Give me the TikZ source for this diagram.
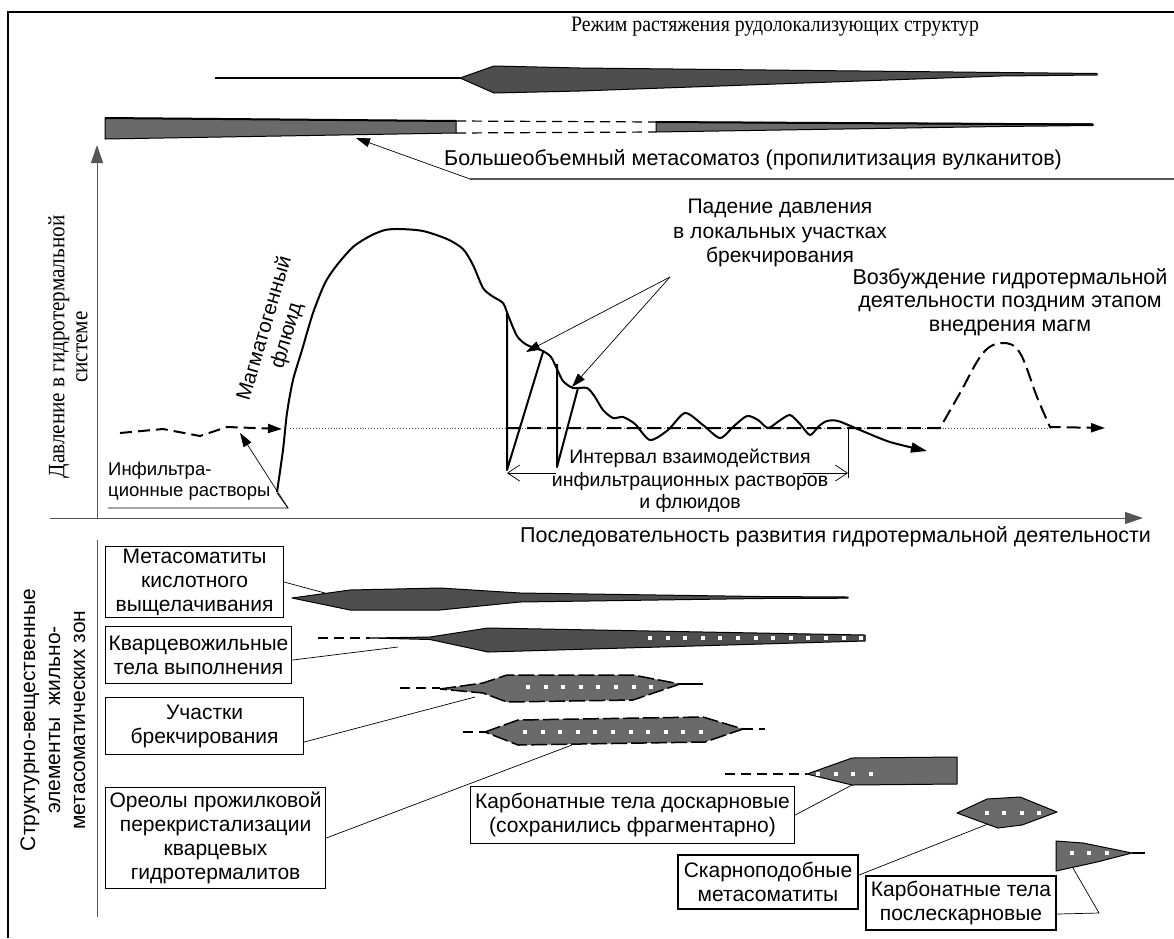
\documentclass[tikz,border=0pt]{standalone}
\usepackage{fontspec}
\setmainfont{Liberation Serif}
\setsansfont{Liberation Sans}
\newfontfamily\condserif[FakeStretch=0.9]{Liberation Serif}
\usetikzlibrary{arrows.meta}
\definecolor{dk}{HTML}{4E4E4E}
\definecolor{md}{HTML}{6A6A6A}
\definecolor{ax}{HTML}{555555}
\begin{document}
\begin{tikzpicture}[x=1pt,y=-1pt,
  sans/.style={font=\sffamily\fontsize{21.5}{25}\selectfont, align=center, inner sep=0pt},
  serif/.style={font=\condserif\fontsize{22}{24}\selectfont, align=center, inner sep=0pt},
  lbox/.style={draw, line width=1.1pt, fill=white, font=\sffamily\fontsize{21}{24}\selectfont, align=center, inner sep=0pt, anchor=north west},
  thinl/.style={line width=0.7pt},
  axisl/.style={line width=1pt, draw=ax},
  curve/.style={line width=2pt, line join=round},
  dcurve/.style={line width=2pt, dash pattern=on 12pt off 6pt},
  tipF/.style={-{Triangle[length=14pt,width=9pt]}},
  tipB/.style={-{Triangle[length=18pt,width=12pt]}},
  barbL/.style={{Straight Barb[length=12pt,width=16pt]}-},
  barbR/.style={-{Straight Barb[length=12pt,width=16pt]}},
  body/.style={draw=black, line width=1pt, line join=round},
  dbody/.style={draw=black, line width=1.5pt, line join=round, dash pattern=on 16pt off 4pt},
  dtail/.style={line width=1.3pt, dash pattern=on 10pt off 6pt},
]
\useasboundingbox (0,0) rectangle (1174,938);
% frame
\draw[line width=1.8pt] (8,938) -- (8,12) -- (1174,12);

% ---------- top bars ----------
\node[serif] (hdr) at (775,27) {Режим растяжения рудолокализующих структур};
\draw[line width=1.2pt] (215,78) -- (460,78);
\draw[body, fill=dk] (460,78) -- (494,66) -- (580,68) -- (1000,72.5) -- (1097,73.5) -- (1097,75) -- (1000,76) -- (580,91) -- (494,93) -- cycle;

\draw[body, fill=md] (105,118) -- (456,121) -- (456,133) -- (105,139) -- cycle;
\draw[line width=2pt] (105,118) -- (456,121);
\draw[line width=1.2pt, dash pattern=on 10pt off 6pt] (456,121) -- (656,122);
\draw[line width=1.2pt, dash pattern=on 10pt off 6pt] (456,133) -- (656,132);
\draw[body, fill=md] (656,122) -- (1093,124) -- (1093,125.5) -- (1000,126.5) -- (656,132) -- cycle;
\draw[line width=2pt] (656,122) -- (1093,124.5);

\node[sans] (big) at (753,160) {Большеобъемный метасоматоз (пропилитизация вулканитов)};
\coordinate (bigL) at (470,179);
\coordinate (barT) at (356,138);
\draw[draw=ax, line width=1.2pt] (bigL) -- (1174,179);
\draw[thinl, tipF] (bigL) -- (barT);

% ---------- axes ----------
\coordinate (O) at (97,518);
\draw[axisl, tipB] (O) -- (97,145);
\draw[axisl, tipB] (50,518) -- (1143,518);
\draw[axisl] (97,540) -- (97,917);
\node[serif, rotate=90, font=\condserif\fontsize{23.5}{23}\selectfont] (ylab) at (68,347) {Давление в гидротермальной\\системе};
\node[sans, anchor=west] (xlab) at (520,537) {Последовательность развития гидротермальной деятельности};

% ---------- graph ----------
\draw[dotted, line width=0.9pt, draw=ax] (290,428) -- (1050,428);
\draw[dcurve, tipF] (120,433) -- (163,429) -- (200,436) -- (227,427) -- (282,429);

\draw[curve, -{Triangle[length=16pt,width=10pt]}] plot[smooth, tension=0.45] coordinates {
 (277,492) (283,450) (287,413) (293,380) (302,350) (313,313) (325,283) (337,265)
 (353,247) (370,236) (385,230) (400,229) (423,231) (447,239) (463,249) (473,265)
 (483,288) (492,296) (503,303) (508,315) (517,336) (527,345) (543,351) (551,357)
 (557,369) (563,381) (573,388) (587,388) (595,397) (603,410) (613,418) (623,417)
 (635,424) (650,440) (668,430) (685,413) (703,425) (720,438) (734,426) (747,416)
 (758,420) (768,428) (779,421) (790,415) (800,424) (810,435) (819,426) (827,421)
 (838,421) (860,430) (890,442) (927,451)};

\draw[curve] (507,313) -- (507,470) -- (543,352);
\draw[curve] (557,364) -- (557,467) -- (578,388);

\draw[dcurve, dash pattern=on 14pt off 6pt, tipF] (507,428) -- (940,428) -- plot[smooth, tension=0.6] coordinates {(940,428) (960,393) (983,353) (1003,343) (1020,353) (1037,397) (1050,427)} -- (1105,428);

% interval
\coordinate (iL) at (507,473);
\coordinate (iR) at (848,473);
\draw[thinl] (848,428) -- (848,478);
\draw[thinl, barbL] (iL) -- (556,473);
\draw[thinl, barbR] (803,473) -- (iR);
\node[sans, font=\sffamily\fontsize{19.5}{22.5}\selectfont] (intv) at (690,481) {Интервал взаимодействия\\инфильтрационных растворов\\и флюидов};

% labels
\node[sans, rotate=73.6, font=\sffamily\fontsize{20.5}{23}\selectfont] (magm) at (276,332) {Магматогенный\\флюид};
\node[sans, align=left, anchor=north west, font=\sffamily\fontsize{18.5}{20.5}\selectfont] (infl) at (108,462) {Инфильтра-\\ционные растворы};
\coordinate (infC) at (288,508);
\draw[thinl] (108,508) -- (infC) -- (277,493);
\draw[thinl, tipF] (infC) -- (240,433);

\node[sans, font=\sffamily\fontsize{21}{24.5}\selectfont] (pad) at (780,233) {Падение давления\\в локальных участках\\брекчирования};
\coordinate (pd) at (670,277);
\draw[thinl, tipF] (pd) -- (526,352);
\draw[thinl, tipF] (pd) -- (572,387);

\node[sans, font=\sffamily\fontsize{21.5}{23.5}\selectfont] (vozb) at (1010,302) {Возбуждение гидротермальной\\деятельности поздним этапом\\внедрения магм};

% ---------- lower part ----------
\node[sans, rotate=90, font=\sffamily\fontsize{21}{25}\selectfont] (slab) at (53,720) {Структурно-вещественные\\элементы\ \ жильно-\\метасоматических зон};

\node[lbox, minimum width=178pt, minimum height=71pt] (b1) at (105,546) {Метасоматиты\\кислотного\\выщелачивания};
\node[lbox, minimum width=186pt, minimum height=57pt] (b2) at (105,626) {Кварцевожильные\\тела выполнения};
\node[lbox, minimum width=198pt, minimum height=57pt] (b3) at (105,697) {Участки\\брекчирования};
\node[lbox, minimum width=220pt, minimum height=101pt] (b4) at (105,787) {Ореолы прожилковой\\перекристализации\\кварцевых\\гидротермалитов};
\node[lbox, minimum width=324pt, minimum height=57pt] (b5) at (470,786) {Карбонатные тела доскарновые\\(сохранились фрагментарно)};
\node[lbox, line width=2pt, minimum width=180pt, minimum height=54pt] (b6) at (677,854) {Скарноподобные\\метасоматиты};
\node[lbox, line width=2pt, minimum width=190pt, minimum height=54pt] (b7) at (865,875) {Карбонатные тела\\послескарновые};

% S2 acid leaching
\draw[body, fill=dk] (292,598) -- (350,590) -- (440,588) -- (520,593) -- (760,596.5) -- (848,597) -- (848,598.2) -- (760,598.5) -- (520,602) -- (440,610) -- (350,610) -- cycle;
% S3 quartz veins
\draw[dtail] (318,638) -- (370,638);
\draw[body, fill=dk] (370,638) -- (430,637) -- (488,628) -- (865,635) -- (865,641) -- (488,652) -- (430,639.5) -- cycle;
\foreach \i in {0,...,12} \fill[white] ({648+\i*17.6},636) rectangle +(4,4);
% S4 brecciation 1
\draw[dtail] (400,688) -- (440,688);
\draw[dbody, fill=md] (440,689) -- (483,683) -- (507,675) -- (633,675) -- (680,684) -- (633,700) -- (507,702) -- (483,693) -- cycle;
\draw[line width=2pt] (680,684) -- (703,684);
\foreach \i in {0,...,7} \fill[white] ({526+\i*17.6},685) rectangle +(4,4);
% S5 brecciation 2
\draw[dtail] (463,732) -- (485,732);
\draw[dbody, fill=md] (485,732) -- (518,720) -- (703,717) -- (743,729) -- (705,742) -- (518,745) -- cycle;
\draw[dtail] (743,729) -- (765,729);
\foreach \i in {0,...,10} \fill[white] ({523+\i*17.6},730) rectangle +(4,4);
% S6 carbonate pre-skarn
\draw[dtail] (725,774) -- (807,774);
\draw[body, fill=md] (807,774) -- (852,758) -- (957,757) -- (957,784) -- (852,785) -- cycle;
\foreach \x in {818,836,853,871} \fill[white] (\x-2,772) rectangle +(4,4);
% S7 skarn-like
\draw[body, fill=md] (957,813) -- (987,799) -- (1020,797) -- (1057,812) -- (1022,825) -- (998,828) -- cycle;
\foreach \x in {987,1004,1022,1039} \fill[white] (\x-2,811) rectangle +(4,4);
% S8 post-skarn
\draw[body, fill=md] (1056,841) -- (1083,843) -- (1132,853) -- (1097,862) -- (1056,871) -- cycle;
\draw[line width=1.5pt] (1132,853) -- (1145,853);
\foreach \x in {1072,1089,1107} \fill[white] (\x-2,851) rectangle +(4,4);

% leaders
\coordinate (t1) at (325,593);
\coordinate (t2) at (398,647);
\coordinate (t3) at (475,697);
\coordinate (t4) at (572,745);
\coordinate (t5) at (852,785);
\coordinate (t6) at (988,824);
\coordinate (t7a) at (1099,913);
\coordinate (t7) at (1073,868);
\draw[thinl] (b1.east) -- (t1);
\draw[thinl] ([yshift=-5pt]b2.east) -- (t2);
\draw[thinl] ([yshift=-16pt]b3.east) -- (t3);
\draw[thinl] (b4.east) -- (t4);
\draw[thinl] (b5.east) -- (t5);
\draw[thinl] ([yshift=7pt]b6.east) -- (t6);
\draw[thinl] ([yshift=-11pt]b7.east) -- (t7a) -- (t7);
\end{tikzpicture}
\end{document}
